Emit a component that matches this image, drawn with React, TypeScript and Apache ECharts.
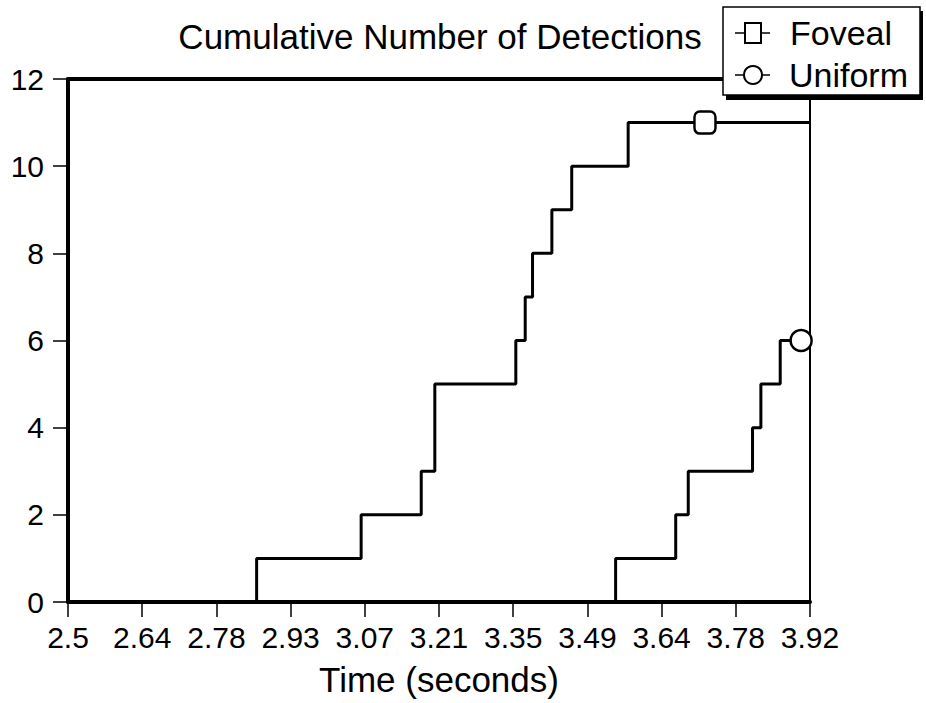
import React, { useEffect, useRef } from "react";
import * as echarts from "echarts";

const fovealTimes = [2.5, 2.861, 3.061, 3.176, 3.202, 3.357, 3.375, 3.389, 3.426, 3.464, 3.572, 3.92];
const fovealCounts = [0, 1, 2, 3, 5, 6, 7, 8, 9, 10, 11, 11];
const uniformTimes = [2.5, 3.548, 3.663, 3.687, 3.81, 3.826, 3.863, 3.903];
const uniformCounts = [0, 1, 2, 3, 4, 5, 6, 6];
const fovealMarker = [3.719, 11];
const uniformMarker = [3.903, 6];

const xTickValues = [2.5, 2.642, 2.784, 2.926, 3.068, 3.21, 3.352, 3.494, 3.636, 3.778, 3.92];
const xTickLabels = ["2.5", "2.64", "2.78", "2.93", "3.07", "3.21", "3.35", "3.49", "3.64", "3.78", "3.92"];
const yTickLabels = ["0", "2", "4", "6", "8", "10", "12"];

const titleText = "Cumulative Number of Detections";
const xAxisName = "Time (seconds)";
const seriesNames = ["Foveal", "Uniform"];

const FONT = '"Liberation Sans", Arial, Helvetica, sans-serif';

export default function App() {
  const ref = useRef<HTMLDivElement>(null);
  useEffect(() => {
    if (!ref.current) return;
    const chart = echarts.init(ref.current, null, { renderer: "svg" });
    const zip = (xs: number[], ys: number[]) => xs.map((x, i) => [x, ys[i]]);
    const option: any = {
      animation: false,
      backgroundColor: "#fff",
      grid: {
        left: 68,
        right: 116,
        top: 79,
        bottom: 101,
        show: true,
        borderColor: "#000",
        borderWidth: 2,
        containLabel: false,
        outerBoundsMode: "none",
      },
      xAxis: [
        {
          type: "value",
          min: 2.5,
          max: 3.92,
          position: "bottom",
          name: xAxisName,
          nameLocation: "middle",
          nameGap: 60,
          nameTextStyle: { fontFamily: FONT, fontSize: 35, color: "#000" },
          axisLine: { show: true, lineStyle: { color: "#000", width: 4 } },
          axisTick: {
            show: true,
            inside: false,
            length: 15,
            lineStyle: { color: "#000", width: 1.5 },
            customValues: xTickValues,
          },
          axisLabel: {
            show: true,
            margin: 20,
            fontFamily: FONT,
            fontSize: 30,
            color: "#000",
            customValues: xTickValues,
            formatter: (v: number) => {
              let best = 0;
              for (let i = 1; i < xTickValues.length; i++) {
                if (Math.abs(xTickValues[i] - v) < Math.abs(xTickValues[best] - v)) best = i;
              }
              return xTickLabels[best];
            },
          },
          splitLine: { show: false },
        },
        {
          type: "value",
          min: 2.5,
          max: 3.92,
          position: "top",
          axisLine: { show: true, lineStyle: { color: "#000", width: 4 } },
          axisTick: { show: false },
          axisLabel: { show: false },
          splitLine: { show: false },
        },
      ],
      yAxis: {
        type: "value",
        min: 0,
        max: 12,
        interval: 2,
        axisLine: { show: true, lineStyle: { color: "#000", width: 4 } },
        axisTick: { show: true, inside: false, length: 15, lineStyle: { color: "#000", width: 1.5 } },
        axisLabel: {
          margin: 24,
          fontFamily: FONT,
          fontSize: 30,
          color: "#000",
          formatter: (v: number) => yTickLabels[Math.round(v / 2)] ?? String(v),
        },
        splitLine: { show: false },
      },
      series: [
        {
          name: seriesNames[0],
          type: "line",
          step: "end",
          symbol: "none",
          data: zip(fovealTimes, fovealCounts),
          lineStyle: { color: "#000", width: 3 },
          z: 3,
        },
        {
          name: seriesNames[1],
          type: "line",
          step: "end",
          symbol: "none",
          data: zip(uniformTimes, uniformCounts),
          lineStyle: { color: "#000", width: 3 },
          z: 3,
        },
        {
          type: "scatter",
          symbol: "roundRect",
          symbolSize: [21, 22],
          data: [fovealMarker],
          itemStyle: { color: "#fff", borderColor: "#000", borderWidth: 2.5, opacity: 1 },
          z: 5,
        },
        {
          type: "scatter",
          symbol: "circle",
          symbolSize: 21,
          data: [uniformMarker],
          itemStyle: { color: "#fff", borderColor: "#000", borderWidth: 2.5, opacity: 1 },
          z: 5,
        },
      ],
      graphic: [
        {
          type: "text",
          x: 440,
          y: 36,
          z: 100,
          style: {
            text: titleText,
            fontFamily: FONT,
            fontSize: 35,
            fill: "#000",
            align: "center",
            verticalAlign: "middle",
          },
        },
        {
          type: "rect",
          z: 100,
          shape: { x: 726, y: 11, width: 197, height: 89 },
          style: { fill: "#000" },
        },
        {
          type: "rect",
          z: 101,
          shape: { x: 723, y: 7, width: 197, height: 88 },
          style: { fill: "#fff", stroke: "#000", lineWidth: 1.5 },
        },
        {
          type: "line",
          z: 102,
          shape: { x1: 735, y1: 33, x2: 770, y2: 33 },
          style: { stroke: "#000", lineWidth: 1.5 },
        },
        {
          type: "rect",
          z: 103,
          shape: { x: 745, y: 23, width: 16, height: 20 },
          style: { fill: "#fff", stroke: "#000", lineWidth: 2 },
        },
        {
          type: "line",
          z: 102,
          shape: { x1: 735, y1: 75, x2: 770, y2: 75 },
          style: { stroke: "#000", lineWidth: 1.5 },
        },
        {
          type: "circle",
          z: 103,
          shape: { cx: 753, cy: 75, r: 9 },
          style: { fill: "#fff", stroke: "#000", lineWidth: 2 },
        },
        {
          type: "text",
          x: 790,
          y: 33,
          z: 103,
          style: {
            text: seriesNames[0],
            fontFamily: FONT,
            fontSize: 34,
            fill: "#000",
            align: "left",
            verticalAlign: "middle",
          },
        },
        {
          type: "text",
          x: 789,
          y: 75,
          z: 103,
          style: {
            text: seriesNames[1],
            fontFamily: FONT,
            fontSize: 34,
            fill: "#000",
            align: "left",
            verticalAlign: "middle",
          },
        },
      ],
    };
    chart.setOption(option);
    return () => chart.dispose();
  }, []);
  return (
    <div
      ref={ref}
      style={{ position: "fixed", left: 0, top: 0, width: 926, height: 703, background: "#fff" }}
    />
  );
}
